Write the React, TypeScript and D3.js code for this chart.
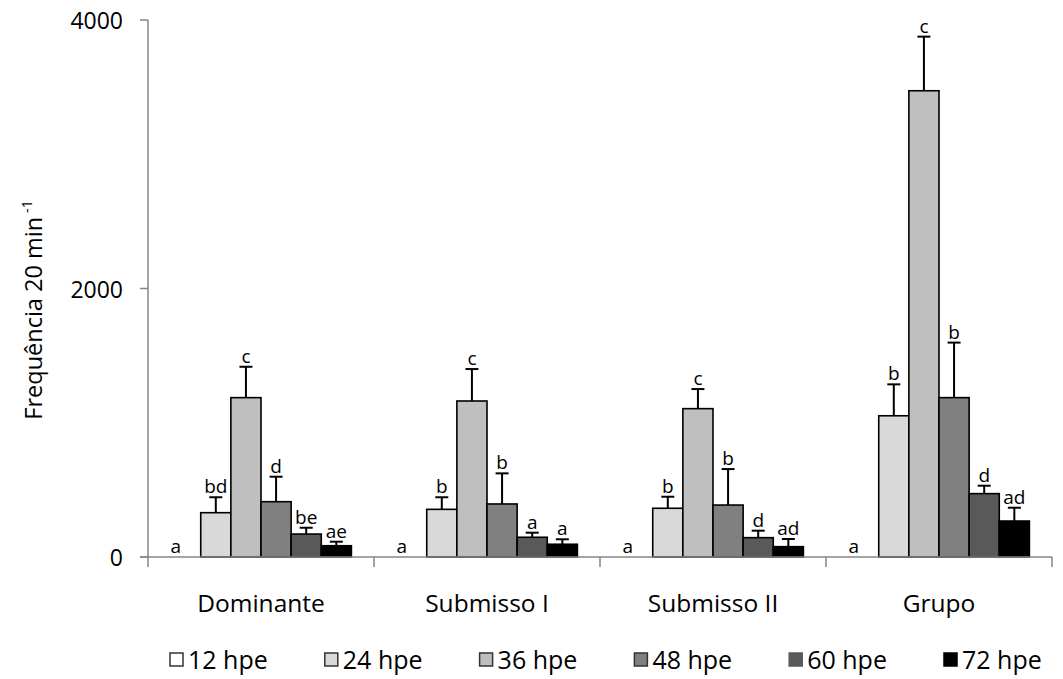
import React from "react";
import * as d3 from "d3";

const categories = ["Dominante", "Submisso I", "Submisso II", "Grupo"];
const series = ["12 hpe", "24 hpe", "36 hpe", "48 hpe", "60 hpe", "72 hpe"];
const colors = ["#ffffff", "#d9d9d9", "#bfbfbf", "#808080", "#595959", "#000000"];

// mean values, one array per series (Dominante, Submisso I, Submisso II, Grupo)
const h12 = [0, 0, 0, 0];
const h24 = [330, 355, 363, 1052];
const h36 = [1187, 1162, 1105, 3473];
const h48 = [412, 395, 387, 1187];
const h60 = [171, 147, 144, 472];
const h72 = [84, 95, 77, 268];

// upper error (standard error)
const e12 = [0, 0, 0, 0];
const e24 = [115, 90, 86, 234];
const e36 = [230, 238, 146, 403];
const e48 = [186, 228, 268, 410];
const e60 = [47, 34, 52, 59];
const e72 = [30, 37, 57, 99];

// significance letters
const l12 = ["a", "a", "a", "a"];
const l24 = ["bd", "b", "b", "b"];
const l36 = ["c", "c", "c", "c"];
const l48 = ["d", "b", "b", "b"];
const l60 = ["be", "a", "d", "d"];
const l72 = ["ae", "a", "ad", "ad"];

const yTicks = [0, 2000, 4000];

const means = [h12, h24, h36, h48, h60, h72];
const errors = [e12, e24, e36, e48, e60, e72];
const letters = [l12, l24, l36, l48, l60, l72];

const width = 1063;
const height = 679;
const axisColor = "#868686";
const font = "'Open Sans', 'Noto Sans', sans-serif";

export default function App() {
  const x = d3.scaleBand().domain(categories).range([148, 1052]);
  const xs = d3
    .scaleBand()
    .domain(series)
    .range([0, x.bandwidth()])
    .paddingOuter(0.75);
  const y = d3.scaleLinear().domain([0, 4000]).range([557, 20]);
  const bw = xs.bandwidth();

  const bars = [];
  categories.forEach((c, ci) => {
    series.forEach((s, si) => {
      bars.push({
        c,
        s,
        si,
        v: means[si][ci],
        e: errors[si][ci],
        l: letters[si][ci],
      });
    });
  });

  return (
    <svg
      width={width}
      height={height}
      style={{ position: "absolute", left: 0, top: 0, background: "#fff" }}
      fontFamily={font}
    >
      {/* bars */}
      {bars.map((d, i) => {
        const bx = x(d.c) + xs(d.s);
        return (
          <rect
            key={"b" + i}
            x={bx}
            y={y(d.v)}
            width={bw}
            height={y(0) - y(d.v)}
            fill={colors[d.si]}
            stroke="#000"
            strokeWidth={1.6}
          />
        );
      })}

      {/* axes */}
      <line x1={148} x2={148} y1={y(4000)} y2={y(0)} stroke={axisColor} strokeWidth={1.5} />
      {yTicks.map((t) => (
        <g key={"yt" + t}>
          <line x1={140} x2={148} y1={y(t)} y2={y(t)} stroke={axisColor} strokeWidth={1.5} />
          <text
            x={123}
            y={y(t)}
            textAnchor="end"
            dominantBaseline="central"
            fontSize={23}
            fill="#000"
          >
            {t}
          </text>
        </g>
      ))}
      <line x1={140} x2={1052} y1={y(0)} y2={y(0)} stroke={axisColor} strokeWidth={1.5} />
      {categories.concat(["end"]).map((c, i) => {
        const tx = i < categories.length ? x(c) : x.range()[1];
        return (
          <line
            key={"xt" + i}
            x1={tx}
            x2={tx}
            y1={y(0)}
            y2={y(0) + 10}
            stroke={axisColor}
            strokeWidth={1.5}
          />
        );
      })}
      {categories.map((c) => (
        <text
          key={"cl" + c}
          x={x(c) + x.bandwidth() / 2}
          y={612}
          textAnchor="middle"
          fontSize={24.5}
          fill="#000"
        >
          {c}
        </text>
      ))}

      {/* error bars and letters */}
      {bars.map((d, i) => {
        const cx = x(d.c) + xs(d.s) + bw / 2;
        const top = y(d.v + d.e);
        return (
          <g key={"e" + i}>
            {d.e > 0 && (
              <g stroke="#000" strokeWidth={2}>
                <line x1={cx} x2={cx} y1={y(d.v)} y2={top} />
                <line x1={cx - 6.5} x2={cx + 6.5} y1={top} y2={top} />
              </g>
            )}
            <text
              x={d.v === 0 ? cx - 10 : cx}
              y={d.v === 0 ? y(0) - 4 : top - 4}
              textAnchor="middle"
              fontSize={19}
              fill="#000"
            >
              {d.l}
            </text>
          </g>
        );
      })}

      {/* y label */}
      <text
        transform="translate(42,310) rotate(-90)"
        textAnchor="middle"
        fontSize={23.5}
        fill="#000"
      >
        Frequência 20 min
        <tspan fontSize={14} dy={-10} dx={4}>
          -1
        </tspan>
      </text>

      {/* legend */}
      {series.map((s, i) => {
        const lx = 170 + i * 154.8;
        return (
          <g key={"lg" + s}>
            <rect
              x={lx}
              y={653}
              width={13}
              height={13}
              fill={colors[i]}
              stroke={i < 4 ? "#333" : colors[i]}
              strokeWidth={1.5}
            />
            <text x={lx + 18} y={668.5} fontSize={25} fill="#000">
              {s}
            </text>
          </g>
        );
      })}
    </svg>
  );
}
